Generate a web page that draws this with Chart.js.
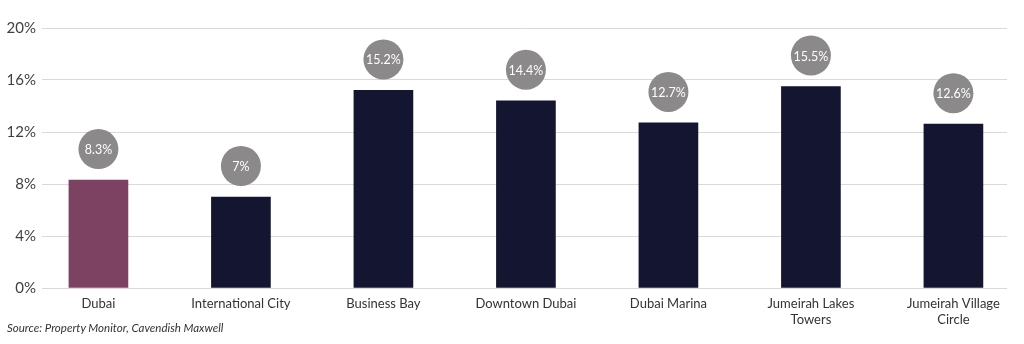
<!DOCTYPE html>
<html lang="en">

<head>
  <meta charset="UTF-8" />
  <title>Rental yields by area</title>
  <script src="https://cdn.jsdelivr.net/npm/chart.js"></script>
  <style>
    body {
      margin: 0;
      background: #ffffff;
    }

    #wrap {
      position: relative;
      width: 1024px;
      height: 344px;
    }

    #source {
      position: absolute;
      left: 7px;
      top: 321px;
      font: italic 11.5px Lato, "Open Sans", sans-serif;
      color: #333333;
    }
  </style>
</head>

<body>
  <div id="wrap">
    <canvas id="yieldChart" width="1024" height="344"></canvas>
    <div id="source"></div>
  </div>

  <script>
    const areas = [
      "Dubai",
      "International City",
      "Business Bay",
      "Downtown Dubai",
      "Dubai Marina",
      ["Jumeirah Lakes", "Towers"],
      ["Jumeirah Village", "Circle"]
    ];
    const yields = [8.3, 7, 15.2, 14.4, 12.7, 15.5, 12.6];
    const barColors = ["#7d4262", "#141530", "#141530", "#141530", "#141530", "#141530", "#141530"];
    const yTicks = [0, 4, 8, 12, 16, 20];
    const sourceNote = "Source: Property Monitor, Cavendish Maxwell";

    const FONT = "Lato, 'Open Sans', sans-serif";

    document.getElementById("source").textContent = sourceNote;

    // bars sit on a linear x scale so the columns can run slightly past the grid
    const points = yields.map((v, i) => ({ x: i, y: v }));

    // grey value bubbles above each bar
    const valueBubbles = {
      id: "valueBubbles",
      afterDatasetsDraw(chart) {
        const c = chart.ctx;
        const meta = chart.getDatasetMeta(0);
        c.save();
        meta.data.forEach((bar, i) => {
          const cx = bar.x;
          const cy = bar.y - 31;
          c.beginPath();
          c.arc(cx, cy, 20, 0, Math.PI * 2);
          c.fillStyle = "#8b898a";
          c.fill();
          c.fillStyle = "#ffffff";
          c.font = "12.5px " + FONT;
          c.textAlign = "center";
          c.textBaseline = "middle";
          c.fillText(yields[i] + "%", cx, cy + 1);
        });
        c.restore();
      }
    };

    new Chart(document.getElementById("yieldChart"), {
      type: "bar",
      data: {
        datasets: [{
          data: points,
          backgroundColor: barColors,
          barThickness: 59
        }]
      },
      options: {
        responsive: false,
        animation: false,
        clip: false,
        layout: { padding: { top: 28, right: 17, bottom: 8, left: 7 } },
        plugins: {
          legend: { display: false },
          tooltip: { enabled: false }
        },
        scales: {
          x: {
            type: "linear",
            offset: false,
            min: -0.396,
            max: 6.376,
            afterBuildTicks: s => { s.ticks = areas.map((a, i) => ({ value: i })); },
            grid: { display: false, drawTicks: false },
            border: { display: false },
            ticks: {
              color: "#333333",
              font: { family: FONT, size: 13 },
              padding: 8,
              maxRotation: 0,
              autoSkip: false,
              callback: v => areas[v]
            },
            afterFit: s => { s.height = 48; }
          },
          y: {
            min: 0,
            max: 20,
            afterBuildTicks: s => { s.ticks = yTicks.map(v => ({ value: v })); },
            grid: { color: "#d9d9d9", lineWidth: 1, drawTicks: false },
            border: { display: false },
            ticks: {
              color: "#404040",
              font: { family: FONT, size: 15 },
              padding: 6,
              callback: v => v + "%"
            },
            afterFit: s => { s.width = 35; }
          }
        }
      },
      plugins: [valueBubbles]
    });
  </script>
</body>

</html>
